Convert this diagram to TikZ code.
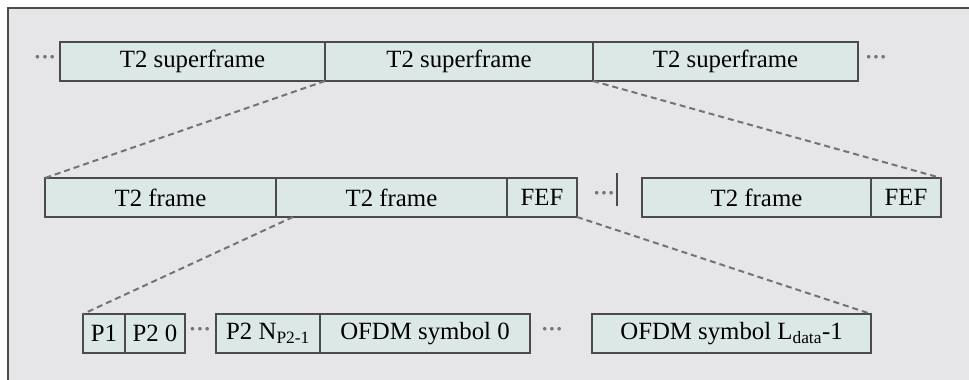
\documentclass[tikz,border=0pt]{standalone}
\usepackage{fontspec}
\setmainfont{Liberation Serif}
\usetikzlibrary{positioning,calc}
\definecolor{bgcolor}{RGB}{230,230,233}
\definecolor{boxcolor}{RGB}{220,232,230}
\definecolor{edgecolor}{RGB}{75,75,75}
\definecolor{dashcolor}{RGB}{115,115,115}
\begin{document}
\begin{tikzpicture}[x=1pt, y=-1pt,
    cell/.style={rectangle, draw=edgecolor, fill=boxcolor, line width=2pt,
      minimum height=39pt, inner sep=0pt, outer sep=0pt,
      font=\fontsize{24.8}{27}\selectfont},
    zoomline/.style={dashcolor, line width=2pt, dash pattern=on 6pt off 4pt},
    etc/.style={text=dashcolor, font=\fontsize{22}{24}\selectfont\bfseries, inner sep=0pt}]
    \useasboundingbox (0,0) rectangle (969,380);
    % --- Panel ---
    \draw[edgecolor, line width=1.5pt, fill=bgcolor] (8,8) rectangle (990,400);
    % --- Superframes ---
    \node[cell, minimum width=265pt, anchor=north west] (sf1) at (60,42) {T2 superframe};
    \node[cell, minimum width=268pt, right=0pt of sf1] (sf2) {T2 superframe};
    \node[cell, minimum width=265pt, right=0pt of sf2] (sf3) {T2 superframe};
    \node[etc] (sfl) at (45,60) {···};
    \node[etc] (sfr) at (876,60) {···};
    % --- T2 frames ---
    \node[cell, minimum width=231pt, anchor=north west] (fr1) at (45,178) {T2 frame};
    \node[cell, minimum width=231pt, right=0pt of fr1] (fr2) {T2 frame};
    \node[cell, minimum width=70pt, right=0pt of fr2] (fef1) {FEF};
    \node[cell, minimum width=229pt, anchor=north west] (fr3) at (642,178) {T2 frame};
    \node[cell, minimum width=70pt, right=0pt of fr3] (fef2) {FEF};
    \node[etc] (frd) at (604,196) {···};
    \draw[edgecolor, line width=2pt] (617,173) -- (617,206);
    % --- Symbols ---
    \node[cell, minimum width=42pt, anchor=north west] (p1) at (83,314) {P1};
    \node[cell, minimum width=60pt, right=0pt of p1] (p20) {P2 0};
    \node[cell, minimum width=104pt, anchor=north west] (p2n) at (216,314) {P2 N\textsubscript{P2-1}};
    \node[cell, minimum width=210pt, right=0pt of p2n] (sym0) {OFDM symbol 0};
    \node[cell, minimum width=279pt, anchor=north west] (symL) at (592,314) {OFDM symbol L\textsubscript{data}-1};
    \node[etc] (pd) at (200,332) {···};
    \node[etc] (sd) at (552,332) {···};
    % --- Zoom lines ---
    \draw[zoomline] (sf2.south west) -- (fr1.north west);
    \draw[zoomline] (sf2.south east) -- (fef2.north east);
    \draw[zoomline] ([xshift=17pt]fr2.south west) -- (p1.north west);
    \draw[zoomline] (fef1.south east) -- (symL.north east);
\end{tikzpicture}
\end{document}
